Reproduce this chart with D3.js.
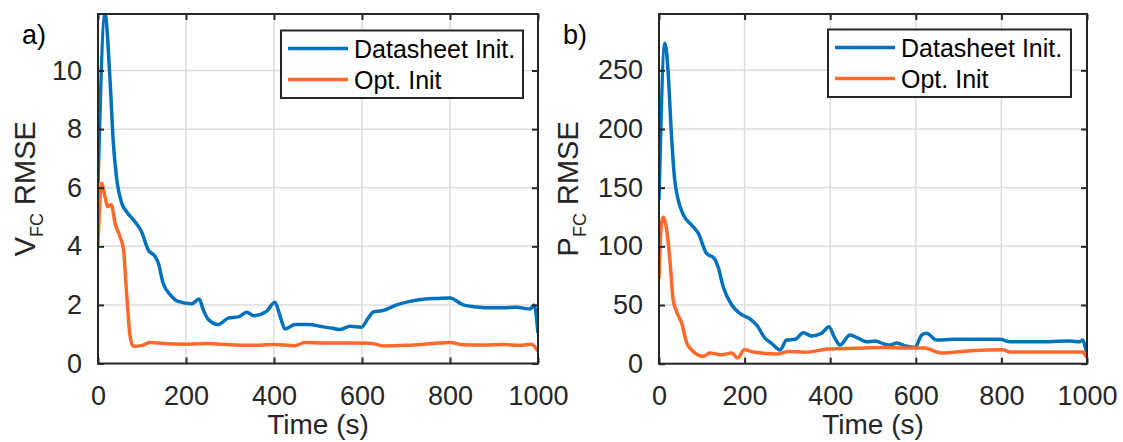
<!DOCTYPE html>
<html>
<head>
<meta charset="utf-8">
<script src="https://cdn.jsdelivr.net/npm/d3@7"></script>
<style>
html,body{margin:0;padding:0;background:#fff;}
svg{display:block;font-family:"Liberation Sans",Arial,sans-serif;}
</style>
</head>
<body>
<svg id="chart" width="1123" height="442"></svg>
<script>
// ---- Data ----
const seriesNames = ["Datasheet Init.", "Opt. Init"];

// Panel a: V_FC RMSE
const aBlueT = [0,16,27,35,42,54,65,84,99,114,130,137,148,164,182,213,230,239,251,273,296,319,338,353,383,402,414,425,448,478,512,531,550,573,599,614,626,645,679,709,743,770,800,830,861,891,921,951,982,991,1000];
const aBlueV = [6.15,11.93,9.77,7.5,6.37,5.47,5.18,4.84,4.5,3.88,3.65,3.43,2.74,2.35,2.12,2.04,2.2,1.84,1.5,1.33,1.55,1.59,1.75,1.63,1.78,2.09,1.61,1.18,1.33,1.33,1.25,1.21,1.16,1.27,1.24,1.55,1.76,1.80,2.0,2.12,2.2,2.22,2.24,2.0,1.93,1.90,1.90,1.92,1.86,2.0,1.04];
const aOrangeT = [0,8,16,22,30,39,50,58,65,73,80,99,118,150,200,250,300,350,400,448,470,520,580,620,650,700,760,800,830,870,920,960,985,1000];
const aOrangeV = [4.05,6.15,5.69,5.35,5.43,4.78,4.33,3.88,2.4,0.93,0.59,0.61,0.72,0.68,0.66,0.68,0.64,0.62,0.65,0.61,0.72,0.70,0.70,0.69,0.60,0.62,0.68,0.72,0.64,0.63,0.65,0.62,0.66,0.42];

// Panel b: P_FC RMSE
const bBlueT = [0,14,22,28,36,45,57,76,92,111,129,139,150,170,189,216,228,248,263,283,298,318,337,357,380,397,411,423,446,466,485,505,528,540,555,579,598,614,625,649,688,727,797,820,882,960,984,990,998,1000];
const bBlueV = [139.5,273,244.5,202,159,139.5,126.7,118.2,111,94,89.8,81.3,65.6,50,42.9,37.2,33,21.6,17.4,11.7,20.2,20.8,26.4,23.6,25.9,31.5,21.6,15.9,24.5,21.6,18.7,19.3,16.5,15.9,17.6,14.8,14,24.5,25.9,20.2,20.8,20.8,20.8,18.7,18.7,19.3,18.7,20.2,11.7,10];
const bOrangeT = [0,5,10,18,26,33,41,53,65,76,104,119,146,170,184,199,224,279,302,341,396,458,528,575,621,645,660,727,804,820,900,990,998,1000];
const bOrangeV = [72.7,117,125,114,86,54.5,44.5,34.6,17.6,11.9,6.3,9.1,7.7,9.1,4.8,11.9,9.7,8.3,10.5,9.7,12.5,13.1,13.7,13.4,13.4,10.5,9.1,11.1,11.9,9.9,9.9,9.9,6.3,5.5];

const xTicks = [0,200,400,600,800,1000];
const aYTicks = [0,2,4,6,8,10];
const bYTicks = [0,50,100,150,200,250];

// ---- Styles ----
const BLUE = "#0072BD", ORANGE = "#FF6A2B", AXIS = "#262626", GRID = "#dcdcdc";

const svg = d3.select("#chart");

function zip(t, v){ return t.map((d,i)=>({t:d, v:v[i]})); }

const panels = [
  {id:"a", x0:98, x1:538, y0:363.5, y1:14, ymax:11.93, yTicks:aYTicks,
   blue:zip(aBlueT,aBlueV), orange:zip(aOrangeT,aOrangeV),
   tag:"a)", tagX:22, ylabMain:"V", ylabX:35,
   leg:{x:281, y:30.5, w:242, h:67.5}},
  {id:"b", x0:659, x1:1087, y0:363.7, y1:14, ymax:298, yTicks:bYTicks,
   blue:zip(bBlueT,bBlueV), orange:zip(bOrangeT,bOrangeV),
   tag:"b)", tagX:563, ylabMain:"P", ylabX:578,
   leg:{x:828, y:29.5, w:243, h:67.5}}
];

panels.forEach(p => {
  const x = d3.scaleLinear().domain([0,1000]).range([p.x0,p.x1]);
  const y = d3.scaleLinear().domain([0,p.ymax]).range([p.y0,p.y1]);
  const g = svg.append("g");

  // clip
  svg.append("clipPath").attr("id","clip-"+p.id)
    .append("rect").attr("x",p.x0).attr("y",p.y1).attr("width",p.x1-p.x0).attr("height",p.y0-p.y1);

  // grid
  g.append("g").selectAll("line").data(xTicks).join("line")
    .attr("x1",d=>x(d)).attr("x2",d=>x(d)).attr("y1",p.y0).attr("y2",p.y1)
    .attr("stroke",GRID).attr("stroke-width",1.5);
  g.append("g").selectAll("line").data(p.yTicks).join("line")
    .attr("x1",p.x0).attr("x2",p.x1).attr("y1",d=>y(d)).attr("y2",d=>y(d))
    .attr("stroke",GRID).attr("stroke-width",1.5);

  // lines
  const line = d3.line().x(d=>x(d.t)).y(d=>y(d.v)).curve(d3.curveMonotoneX);
  const lg = g.append("g").attr("clip-path","url(#clip-"+p.id+")");
  lg.append("path").datum(p.blue).attr("d",line).attr("fill","none")
    .attr("stroke",BLUE).attr("stroke-width",3.5).attr("stroke-linejoin","round");
  lg.append("path").datum(p.orange).attr("d",line).attr("fill","none")
    .attr("stroke",ORANGE).attr("stroke-width",3.5).attr("stroke-linejoin","round");

  // axes (ticks inward, on all sides)
  const tickLen = 6;
  const xb = d3.axisBottom(x).tickValues(xTicks).tickSize(-tickLen).tickFormat(d3.format("d")).tickPadding(22);
  const xt = d3.axisTop(x).tickValues(xTicks).tickSize(-tickLen).tickFormat("");
  const yl = d3.axisLeft(y).tickValues(p.yTicks).tickSize(-tickLen).tickFormat(d3.format("d")).tickPadding(16);
  const yr = d3.axisRight(y).tickValues(p.yTicks).tickSize(-tickLen).tickFormat("");
  [[xb,"translate(0,"+p.y0+")"],[xt,"translate(0,"+p.y1+")"],[yl,"translate("+p.x0+",0)"],[yr,"translate("+p.x1+",0)"]]
  .forEach(([ax,tr]) => {
    const a = g.append("g").attr("transform",tr).call(ax);
    a.select(".domain").remove();
    a.selectAll(".tick line").attr("stroke",AXIS).attr("stroke-width",2);
    a.selectAll(".tick text").attr("fill",AXIS).attr("font-size",27)
      .attr("font-family","'Liberation Sans',Arial,sans-serif");
  });

  // box
  g.append("rect").attr("x",p.x0).attr("y",p.y1).attr("width",p.x1-p.x0).attr("height",p.y0-p.y1)
    .attr("fill","none").attr("stroke",AXIS).attr("stroke-width",2);

  // x label
  g.append("text").attr("x",(p.x0+p.x1)/2).attr("y",434).attr("text-anchor","middle")
    .attr("font-size",28).attr("fill",AXIS).text("Time (s)");

  // y label
  const yt = g.append("text").attr("transform","translate("+p.ylabX+","+((p.y0+p.y1)/2)+") rotate(-90)")
    .attr("text-anchor","middle").attr("font-size",29).attr("fill",AXIS);
  yt.append("tspan").text(p.ylabMain);
  yt.append("tspan").attr("font-size",18).attr("dy",8).text("FC");
  yt.append("tspan").attr("dy",-8).text(" RMSE");

  // panel tag
  g.append("text").attr("x",p.tagX).attr("y",44).attr("font-size",27).attr("fill","#000").text(p.tag);

  // legend
  const L = p.leg;
  const leg = g.append("g");
  leg.append("rect").attr("x",L.x).attr("y",L.y).attr("width",L.w).attr("height",L.h)
    .attr("fill","#fff").attr("stroke",AXIS).attr("stroke-width",2);
  const items = [{name:seriesNames[0], c:BLUE},{name:seriesNames[1], c:ORANGE}];
  items.forEach((it,i) => {
    const ly = L.y + 18 + i*31;
    leg.append("line").attr("x1",L.x+7).attr("x2",L.x+67).attr("y1",ly).attr("y2",ly)
      .attr("stroke",it.c).attr("stroke-width",3.5);
    leg.append("text").attr("x",L.x+73).attr("y",ly+9).attr("font-size",25).attr("fill","#000").text(it.name);
  });
});
</script>
</body>
</html>
